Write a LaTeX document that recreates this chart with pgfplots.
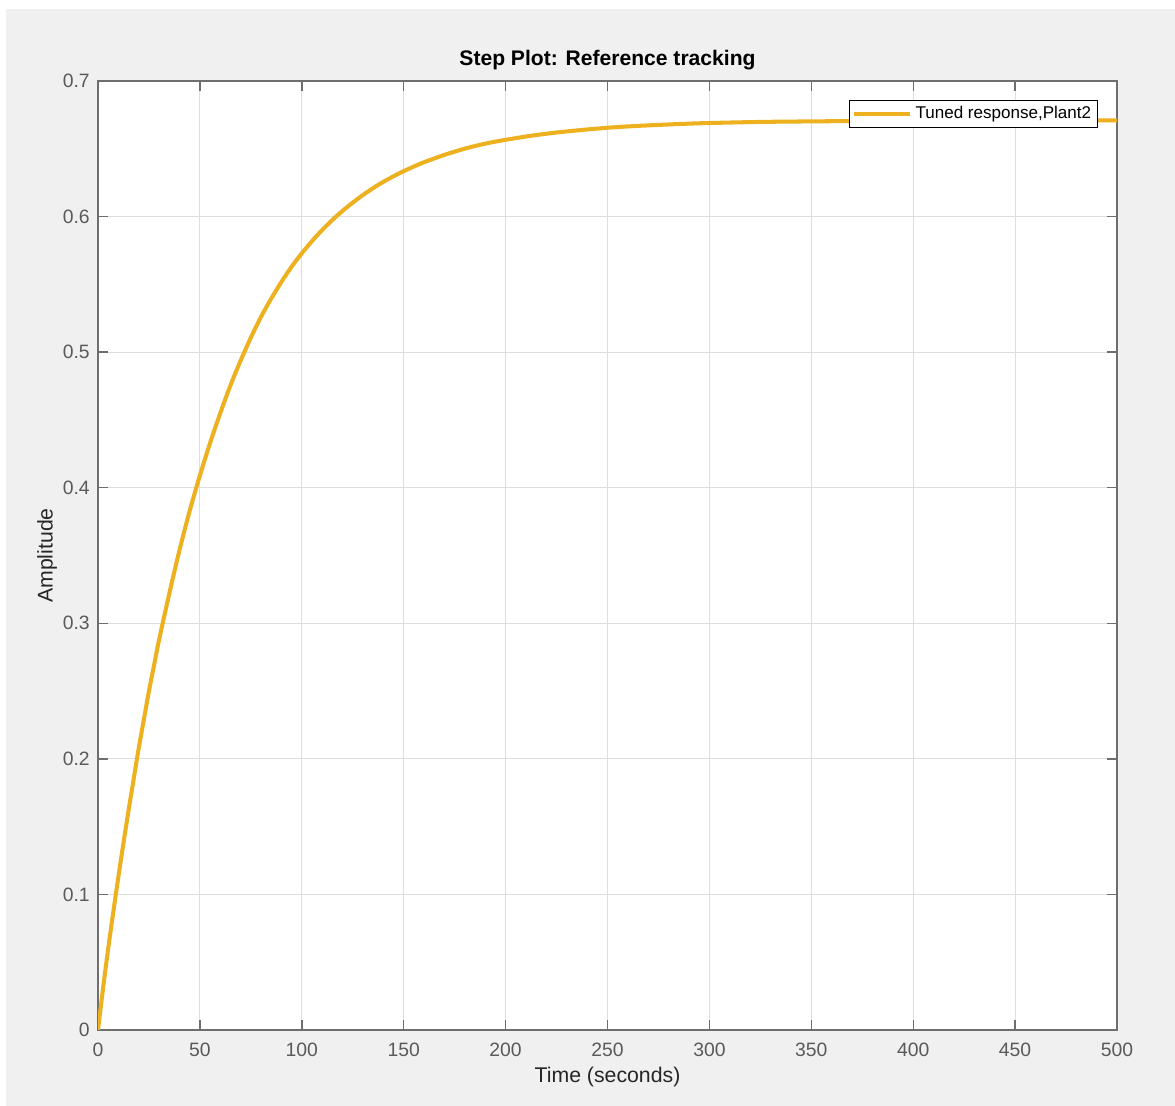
\documentclass[border=0pt]{standalone}
\usepackage{fontspec}
\setmainfont{Liberation Sans}
\usepackage{pgfplots}
\pgfplotsset{compat=1.18}
\definecolor{figbg}{HTML}{F0F0F0}
\definecolor{axcol}{HTML}{6E6E6E}
\definecolor{tickcol}{HTML}{5A5A5A}
\definecolor{gridcol}{HTML}{DEDEDE}
\definecolor{mlyellow}{HTML}{EDB120}

\begin{document}
\begin{tikzpicture}
% figure window: 1 px = 0.02 cm, origin at the axis' lower left corner
\fill[white] (-1.96,-1.52) rectangle (21.54,20.60);
\fill[figbg] (-1.84,-1.52) rectangle (21.54,20.42);
\begin{axis}[
    at={(0,0)}, anchor=south west,
    scale only axis,
    width=20.38cm, height=18.98cm,
    xmin=0, xmax=500, ymin=0, ymax=0.7,
    xtick={0,50,...,500},
    ytick={0,0.1,0.2,0.3,0.4,0.5,0.6,0.7},
    axis background/.style={fill=white},
    axis line style={color=axcol, line width=0.8pt},
    tick style={color=axcol, line width=0.8pt},
    major tick length=0.2cm,
    tick align=inside,
    grid=major,
    major grid style={color=gridcol, line width=0.55pt},
    /pgf/number format/assume math mode=true,
    tick label style={font=\fontsize{11}{13}\selectfont, text=tickcol},
    xticklabel style={anchor=north, inner sep=0pt, yshift=-0.26cm},
    yticklabel style={anchor=east, inner sep=0pt, xshift=-0.16cm,
        /pgf/number format/fixed, /pgf/number format/precision=1},
    title={Step Plot: Reference tracking},
    title style={font=\fontsize{12}{14}\selectfont\bfseries,
        at={(axis description cs:0.5,1.0105)}, anchor=center, yshift=0pt},
    xlabel={Time (seconds)},
    xlabel style={font=\fontsize{12.1}{14}\selectfont, text=black!85,
        at={(axis description cs:0.5,-0.0495)}, anchor=center},
    ylabel={Amplitude},
    ylabel style={font=\fontsize{12.1}{14}\selectfont, text=black!85,
        at={(axis description cs:-0.0500,0.5)}, anchor=center},
    legend style={at={(axis description cs:0.9814,0.9800)}, anchor=north east,
        draw=black, line width=0.6pt, fill=white,
        font=\fontsize{9.7}{11.5}\selectfont,
        inner xsep=1.6pt, inner ysep=1.3pt},
    legend cell align=left,
    legend image code/.code={\draw[#1] (0cm,0cm) -- (1.12cm,0cm);},
]
\addplot[color=mlyellow, line width=2.3pt, smooth] coordinates {
(0,0) (2.5,0.031) (5,0.060) (7.5,0.087) (10,0.113) (12.5,0.138) (15,0.162)
(17.5,0.185) (20,0.208) (22.5,0.229) (25,0.250) (27.5,0.269) (30,0.288)
(35,0.322) (40,0.354) (45,0.383) (50,0.409) (55,0.433) (60,0.455)
(65,0.4755) (70,0.4938) (75,0.5107) (80,0.526) (85,0.5395) (90,0.5518)
(95,0.5630) (100,0.5729) (105,0.5819) (110,0.5901) (115,0.5975) (120,0.6042)
(125,0.6103) (130,0.6159) (135,0.6210) (140,0.6256) (145,0.6297) (150,0.6335)
(155,0.6369) (160,0.6401) (170,0.6455) (180,0.6501) (190,0.6538) (200,0.6566)
(212.5,0.6596) (225,0.662) (237.5,0.6639) (250,0.6655) (262.5,0.6667)
(275,0.6676) (287.5,0.6684) (300,0.669) (325,0.6698) (350,0.6702)
(375,0.6705) (400,0.6707) (450,0.6709) (500,0.671)
};
\addlegendentry{Tuned response,Plant2}
\end{axis}
\end{tikzpicture}
\end{document}
